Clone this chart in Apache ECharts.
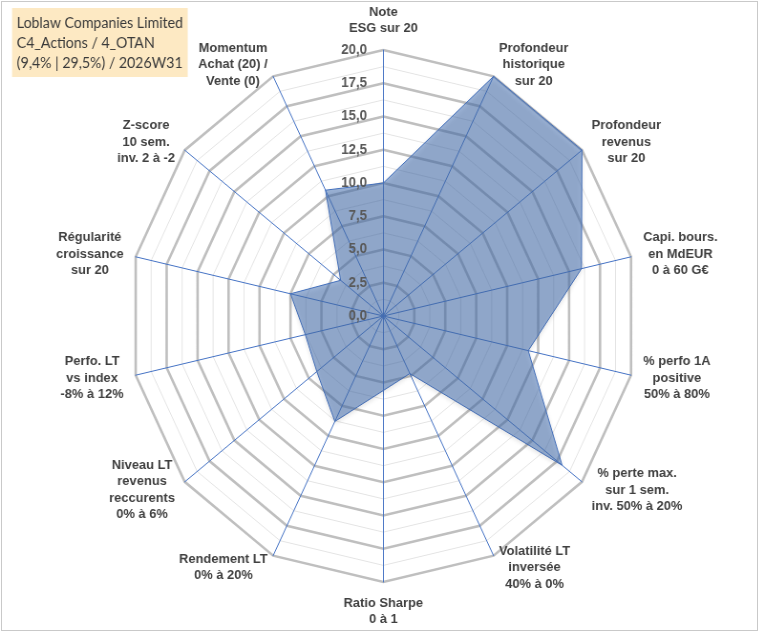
<!DOCTYPE html>
<html>
<head>
<meta charset="utf-8">
<script src="https://cdn.jsdelivr.net/npm/echarts@6/dist/echarts.min.js"></script>
<style>
  html, body { margin: 0; padding: 0; background: #fff; }
  #wrap { position: relative; width: 760px; height: 633px; overflow: hidden; }
  #frame { position: absolute; left: 1px; top: 1px; width: 755px; height: 628px; border: 1px solid #c9c9c9; box-sizing: content-box; pointer-events: none; z-index: 5; }
  #chart { position: absolute; left: 0; top: 0; width: 796px; height: 633px; transform: scaleX(0.955); transform-origin: 0 0; }
</style>
</head>
<body>
<div id="wrap">
  <div id="chart"></div>
  <div id="frame"></div>
</div>
<script>
// ---- Data (clockwise from the top) ----
const titleLines = ['Loblaw Companies Limited', 'C4_Actions / 4_OTAN', '(9,4% | 29,5%) / 2026W31'];
const indicatorNames = [
  'Note\nESG sur 20',
  'Profondeur\nhistorique\nsur 20',
  'Profondeur\nrevenus\nsur 20',
  'Capi. bours.\nen MdEUR\n0 à 60 G€',
  '% perfo 1A\npositive\n50% à 80%',
  '% perte max.\nsur 1 sem.\ninv. 50% à 20%',
  'Volatilité LT\ninversée\n40% à 0%',
  'Ratio Sharpe\n0 à 1',
  'Rendement LT\n0% à 20%',
  'Niveau LT\nrevenus\nreccurents\n0% à 6%',
  'Perfo. LT\nvs index\n-8% à 12%',
  'Régularité\ncroissance\nsur 20',
  'Z-score\n10 sem.\ninv. 2 à -2',
  'Momentum\nAchat (20) /\nVente (0)'
];
const scores = [10, 20, 20, 16, 11.7, 18, 4.8, 5.6, 8.8, 6.7, 6.3, 7.5, 4.3, 10.5];
const scaleMin = 0;
const scaleMax = 20;
const scaleStep = 2.5;

// ECharts radar runs counter-clockwise: keep the first axis, reverse the rest
const order = [0].concat(indicatorNames.map((_, i) => i).slice(1).reverse());
const indicators = order.map(i => ({ name: indicatorNames[i], min: scaleMin, max: scaleMax }));
const values = order.map(i => scores[i]);

const CX = 401.4, CY = 316, R = 266;
const textCol = '#404040';

const chart = echarts.init(document.getElementById('chart'), null, { renderer: 'canvas' });
chart.setOption({
  animation: false,
  title: {
    text: titleLines.join('\n'),
    left: 12.6, top: 8,
    padding: [5, 5, 4, 5],
    backgroundColor: '#fde9c3',
    textStyle: { fontFamily: 'Lato', fontSize: 14.8, fontWeight: 'normal', color: '#3a3a3a', lineHeight: 20 }
  },
  radar: [
    {
      center: [CX, CY], radius: R, startAngle: 90, shape: 'polygon',
      splitNumber: (scaleMax - scaleMin) / (scaleStep / 2),
      indicator: indicators,
      axisName: { show: false },
      axisLine: { show: false },
      splitLine: { lineStyle: { color: '#e4e4e4', width: 1 } },
      splitArea: { show: false }
    },
    {
      center: [CX, CY], radius: R, startAngle: 90, shape: 'polygon',
      splitNumber: (scaleMax - scaleMin) / scaleStep,
      indicator: indicators,
      axisNameGap: 13,
      axisName: {
        formatter: (name) => name.split('\n').map(l => '{c|' + l + '}').join('\n'),
        rich: {
          c: { align: 'center', fontFamily: 'Liberation Sans', fontSize: 13.5, fontWeight: 'bold', color: textCol, lineHeight: 16.5 }
        }
      },
      axisLine: { lineStyle: { color: '#4472c4', width: 1 } },
      splitLine: { lineStyle: { color: '#bfbfbf', width: 2.6 } },
      splitArea: { show: false }
    }
  ],
  grid: { left: CX, top: CY - R, height: R, width: 2, containLabel: false },
  xAxis: { type: 'value', show: false },
  yAxis: {
    type: 'value', min: scaleMin, max: scaleMax, interval: scaleStep, z: 10,
    axisLine: { show: false }, axisTick: { show: false }, splitLine: { show: false },
    axisLabel: {
      margin: 17,
      formatter: v => v.toFixed(1).replace('.', ','),
      fontFamily: 'Liberation Sans', fontSize: 14, fontWeight: 'bold', color: '#595959'
    }
  },
  series: [{
    type: 'radar',
    radarIndex: 1,
    symbol: 'none',
    z: 3,
    lineStyle: { color: '#4472c4', width: 1 },
    areaStyle: { color: 'rgba(74,116,182,0.76)', shadowBlur: 5, shadowColor: 'rgba(0,0,0,0.25)', shadowOffsetY: 2 },
    data: [{ value: values, name: titleLines[0] }]
  }]
});
</script>
</body>
</html>
